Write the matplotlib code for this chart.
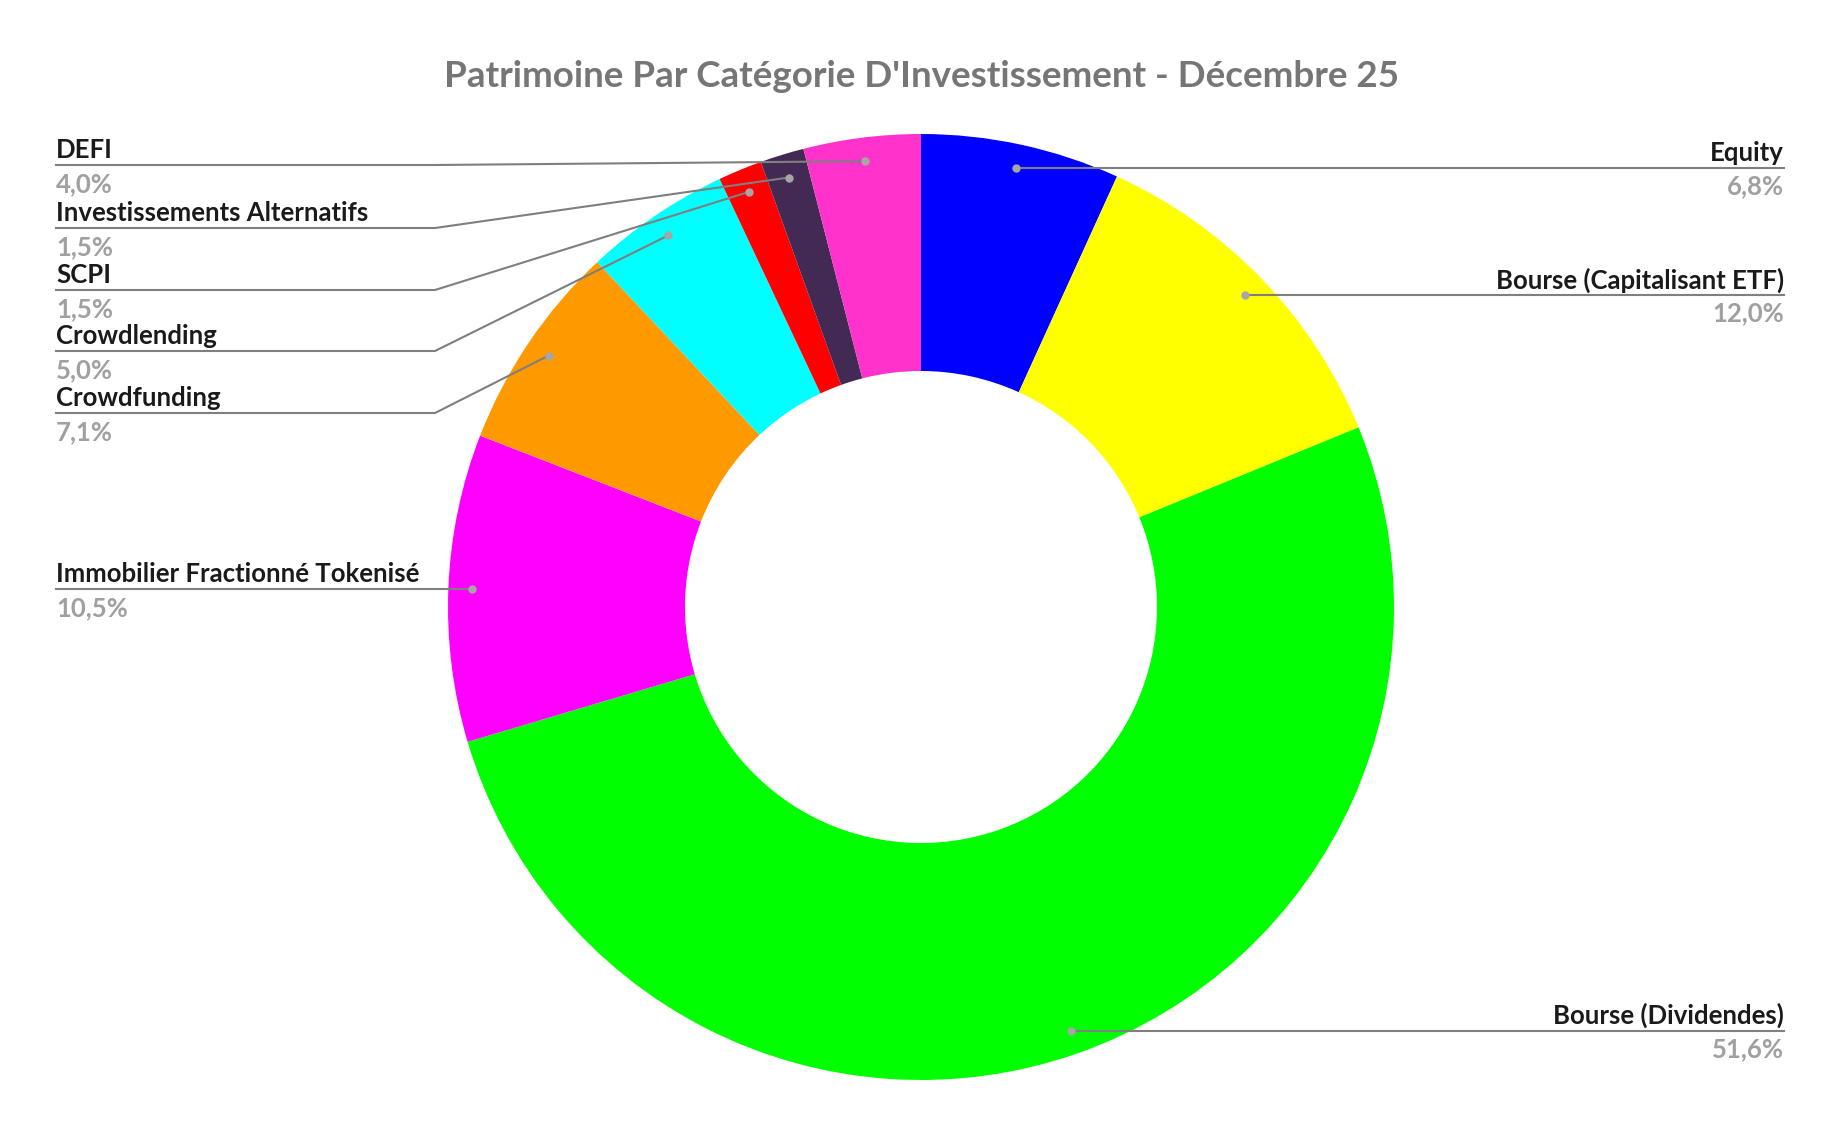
import numpy as np
import matplotlib.pyplot as plt

plt.rcParams['font.family'] = ['Lato', 'DejaVu Sans']

categories = ["Equity", "Bourse (Capitalisant ETF)", "Bourse (Dividendes)",
              "Immobilier Fractionné Tokenisé", "Crowdfunding", "Crowdlending",
              "SCPI", "Investissements Alternatifs", "DEFI"]
values = [6.8, 12.0, 51.6, 10.5, 7.1, 5.0, 1.5, 1.5, 4.0]
colors = ["#0000FF", "#FFFF00", "#00FF00", "#FF00FF", "#FF9900",
          "#00FFFF", "#FF0000", "#432A55", "#FF33CC"]
pct_labels = [f"{v:.1f}%".replace(".", ",") for v in values]
title = "Patrimoine Par Catégorie D'Investissement - Décembre 25"

W, H = 1842, 1138
fig = plt.figure(figsize=(W / 100, H / 100), dpi=100)
ax = fig.add_axes([0, 0, 1, 1])

cx, cy, R = 921, 607, 473
ax.pie(values, colors=colors, startangle=90, counterclock=False,
       radius=R, center=(cx, H - cy),
       wedgeprops=dict(width=237, linewidth=0))
ax.set_xlim(0, W)
ax.set_ylim(0, H)
ax.set_aspect('equal')
ax.axis('off')

# point de chaque part
v = np.array(values)
mid = (np.cumsum(v) - v / 2) / v.sum() * 2 * np.pi
rd = 0.95 * R
dx = cx + rd * np.sin(mid)
dy = cy - rd * np.cos(mid)

line_c = "#7f7f7f"
dot_c = "#a6a6a6"
name_c = "#1a1a1a"
pct_c = "#a0a0a0"
fs = 18.5

def Y(y):
    return H - y

# etiquettes a droite
right_x = 1784
for i in [0, 1, 2]:
    ly = dy[i]
    ax.plot([dx[i], right_x], [Y(ly), Y(ly)], color=line_c, lw=1.5, zorder=3)
    ax.text(right_x, Y(ly - 7), categories[i], ha='right', va='baseline',
            fontsize=fs, fontweight='bold', color=name_c)
    ax.text(right_x, Y(ly + 26), pct_labels[i], ha='right', va='baseline',
            fontsize=fs, fontweight='bold', color=pct_c)

# etiquettes a gauche
left_x = 56
elbow_x = 435
left = [(8, 165), (7, 228), (6, 290), (5, 351), (4, 413), (3, None)]
for i, ly in left:
    if ly is None:
        ly = dy[i]
        ax.plot([left_x, dx[i]], [Y(ly), Y(ly)], color=line_c, lw=1.5, zorder=3)
    else:
        ax.plot([left_x, elbow_x, dx[i]], [Y(ly), Y(ly), Y(dy[i])],
                color=line_c, lw=1.5, zorder=3)
    ax.text(left_x, Y(ly - 7), categories[i], ha='left', va='baseline',
            fontsize=fs, fontweight='bold', color=name_c)
    ax.text(left_x, Y(ly + 27), pct_labels[i], ha='left', va='baseline',
            fontsize=fs, fontweight='bold', color=pct_c)

ax.plot(dx, Y(dy), 'o', color=dot_c, ms=5, zorder=4)

ax.text(W / 2, Y(76), title, ha='center', va='center',
        fontsize=26.5, fontweight='bold', color="#767676")

fig.savefig("out.png", dpi=100)
